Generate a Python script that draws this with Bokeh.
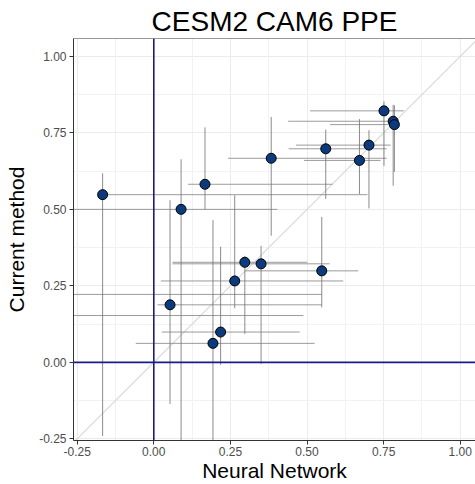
from bokeh.plotting import figure
from bokeh.models import Range1d, FixedTicker, Span, Slope, NumeralTickFormatter, ColumnDataSource
from bokeh.embed import file_html
from bokeh.resources import INLINE

# Neural Network estimate (x) and current method estimate (y) for each parameter
nn = [-0.167, 0.167, 0.089, 0.383, 0.561, 0.671, 0.702, 0.751, 0.781, 0.785,
      0.053, 0.193, 0.218, 0.264, 0.297, 0.350, 0.548, -0.40, -0.40]
cur = [0.548, 0.582, 0.500, 0.667, 0.698, 0.660, 0.710, 0.822, 0.788, 0.777,
       0.188, 0.062, 0.099, 0.266, 0.327, 0.322, 0.299, 0.222, 0.153]
# Neural Network interval
nn_lo = [-0.167, 0.112, -0.30, 0.242, 0.440, 0.490, 0.464, 0.510, 0.438, 0.575,
         0.012, -0.059, 0.026, 0.023, 0.061, 0.061, 0.298, -0.40, -0.40]
nn_hi = [0.697, 0.583, 0.403, 0.760, 0.760, 0.740, 0.773, 0.816, 0.785, 0.790,
         0.548, 0.525, 0.476, 0.618, 0.501, 0.574, 0.667, 0.548, 0.488]
# Current method interval
cur_lo = [-0.241, 0.500, -0.30, 0.414, 0.534, 0.550, 0.503, 0.642, 0.577, 0.623,
          -0.136, -0.30, -0.008, 0.177, 0.093, -0.005, 0.180, 0.222, 0.153]
cur_hi = [0.618, 0.768, 0.664, 0.802, 0.761, 0.795, 0.759, 0.853, 0.842, 0.840,
          0.530, 0.465, 0.378, 0.546, 0.348, 0.381, 0.475, 0.222, 0.153]

tick_vals = [-0.25, 0.0, 0.25, 0.5, 0.75, 1.0]
minor_vals = [-0.125, 0.125, 0.375, 0.625, 0.875]

src = ColumnDataSource(dict(nn=nn, cur=cur, nn_lo=nn_lo, nn_hi=nn_hi,
                            cur_lo=cur_lo, cur_hi=cur_hi))

FONT = "Liberation Sans"
X0, X1 = -0.262, 1.0496
Y0, Y1 = -0.2555, 1.0585

p = figure(width=475, height=484, output_backend="svg", toolbar_location=None,
           x_range=Range1d(X0, X1), y_range=Range1d(Y0, Y1),
           min_border_left=73, min_border_right=0, min_border_top=38, min_border_bottom=43)

p.title.text = "CESM2 CAM6 PPE"
p.title.align = "center"
p.title.text_font = FONT
p.title.text_font_size = "28px"
p.title.text_font_style = "normal"
p.title.text_color = "black"
p.title.standoff = 4

p.outline_line_color = None
p.background_fill_color = "white"
p.border_fill_color = "white"

for ax, lbl in ((p.xaxis[0], "Neural Network"), (p.yaxis[0], "Current method")):
    ax.ticker = FixedTicker(ticks=tick_vals, minor_ticks=minor_vals)
    ax.formatter = NumeralTickFormatter(format="0.00")
    ax.axis_label = lbl
    ax.axis_label_text_font = FONT
    ax.axis_label_text_font_size = "21px"
    ax.axis_label_text_font_style = "normal"
    ax.axis_label_text_color = "black"
    ax.major_label_text_font = FONT
    ax.major_label_text_font_size = "12px"
    ax.major_label_text_color = "#4d4d4d"
    ax.axis_line_color = "#333333"
    ax.axis_line_width = 1
    ax.major_tick_line_color = "#333333"
    ax.major_tick_in = 0
    ax.major_tick_out = 4
    ax.minor_tick_in = 0
    ax.minor_tick_out = 0

p.xaxis[0].major_label_standoff = 2
p.xaxis[0].axis_label_standoff = 0
p.yaxis[0].major_label_standoff = 3
p.yaxis[0].axis_label_standoff = 8

for g in (p.xgrid[0], p.ygrid[0]):
    g.grid_line_color = "#ebebeb"
    g.grid_line_width = 1
    g.minor_grid_line_color = "#f2f2f2"
    g.minor_grid_line_width = 1

# top border of panel
p.add_layout(Span(location=Y1, dimension="width", line_color="#333333", line_width=1))

# 1:1 line
p.add_layout(Slope(gradient=1, y_intercept=0, line_color="#dcdcdc", line_width=1.2, level="underlay"))

# error bars
p.segment(x0="nn_lo", x1="nn_hi", y0="cur", y1="cur", source=src,
          line_color="#8a8a8a", line_width=1, line_alpha=0.85)
p.segment(x0="nn", x1="nn", y0="cur_lo", y1="cur_hi", source=src,
          line_color="#777777", line_width=1, line_alpha=0.85)

# zero reference lines
p.add_layout(Span(location=0, dimension="height", line_color="#1c1c88", line_width=1.6))
p.add_layout(Span(location=0, dimension="width", line_color="#1c1c88", line_width=1.6))

p.scatter(x="nn", y="cur", source=src, size=10, fill_color="#0b3b7d",
          line_color="black", line_width=1)

open("out.html", "w").write(file_html(p, INLINE))
